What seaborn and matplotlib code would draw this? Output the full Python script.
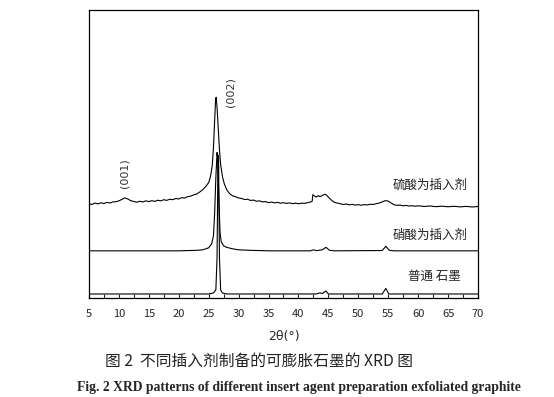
import numpy as np
import pandas as pd
import seaborn as sns
import matplotlib.pyplot as plt
from matplotlib.ticker import MultipleLocator

# 硫酸为插入剂 (2θ, 强度 a.u.)
h2so4_x = [5.0, 5.5, 6.0, 6.5, 7.0, 7.5, 8.0, 8.5, 9.0, 9.5, 10.0, 10.5, 11.0, 11.5, 12.0, 12.5,
           13.0, 13.5, 14.0, 14.5, 15.0, 15.5, 16.0, 16.5, 17.0, 17.5, 18.0, 18.5, 19.0, 19.5,
           20.0, 20.5, 21.0, 21.5, 22.0, 22.5, 23.0, 23.5, 24.0, 24.5, 25.0, 25.3, 25.6, 25.8,
           26.0, 26.15, 26.25, 26.4, 26.6, 26.8, 27.0, 27.3, 27.6, 28.0, 28.5, 29.0, 29.5, 30.0,
           30.5, 31.0, 31.5, 32.0, 32.5, 33.0, 33.5, 34.0, 34.5, 35.0, 35.5, 36.0, 36.5, 37.0,
           37.5, 38.0, 38.5, 39.0, 39.5, 40.0, 40.5, 41.0, 41.5, 42.0, 42.3, 42.4, 42.7, 43.0,
           43.3, 43.6, 44.0, 44.4, 44.7, 45.0, 45.5, 46.0, 46.5, 47.0, 47.5, 48.0, 48.5, 49.0,
           49.5, 50.0, 50.5, 51.0, 51.5, 52.0, 52.5, 53.0, 53.5, 54.0, 54.5, 55.0, 55.5, 56.0,
           56.5, 57.0, 57.5, 58.0, 58.5, 59.0, 59.5, 60.0, 61.0, 62.0, 63.0, 64.0, 65.0, 66.0,
           67.0, 68.0, 69.0, 70.0]
h2so4_y = [94.0, 93.2, 94.6, 93.8, 94.9, 94.1, 95.3, 94.6, 95.8, 95.9, 96.8, 98.2, 99.8, 98.6, 96.9, 96.2,
           95.4, 96.4, 95.7, 96.8, 96.1, 97.0, 96.3, 97.4, 96.8, 97.9, 97.3, 98.4, 98.0, 99.1,
           98.7, 100.0, 99.6, 101.0, 101.5, 102.8, 103.6, 105.6, 107.9, 111.0, 115.0, 121.0, 132.0, 150.0,
           178.0, 197.0, 200.0, 190.0, 168.0, 148.0, 133.0, 121.0, 114.0, 108.0, 104.0, 101.8, 100.9, 99.6,
           99.2, 98.1, 98.4, 97.2, 97.6, 96.4, 96.8, 95.7, 96.1, 95.0, 95.6, 94.8, 95.3, 94.4,
           95.0, 94.2, 94.8, 94.0, 94.6, 93.9, 94.5, 94.3, 95.0, 95.6, 96.5, 103.0, 101.5, 100.6,
           102.0, 101.0, 102.2, 103.4, 102.6, 100.5, 97.6, 95.3, 94.6, 94.0, 93.2, 93.6, 92.8, 93.3,
           92.6, 93.0, 92.4, 93.1, 92.7, 93.4, 93.2, 94.0, 94.6, 95.8, 97.0, 96.6, 94.6, 92.9,
           92.3, 92.6, 91.8, 92.3, 91.6, 92.0, 91.4, 91.9, 91.2, 91.7, 91.0, 91.5, 90.9, 91.4,
           90.8, 91.3, 90.7, 91.2]

# 硝酸为插入剂
hno3_x = [5.0, 20.0, 23.0, 24.0, 25.0, 25.5, 25.8, 26.0, 26.2, 26.4, 26.5, 26.7, 26.9, 27.1,
          27.5, 28.0, 29.0, 30.0, 32.0, 35.0, 42.0, 42.5, 43.0, 44.0, 44.6, 45.2, 46.0, 54.0,
          54.6, 55.2, 56.0, 70.0]
hno3_y = [47.0, 47.0, 47.5, 48.0, 50.0, 54.0, 62.0, 85.0, 120.0, 145.0, 140.0, 100.0, 65.0, 56.0,
          52.0, 50.5, 49.0, 48.0, 47.5, 47.0, 47.0, 48.0, 47.2, 48.0, 50.5, 47.5, 47.0, 47.3,
          51.5, 47.5, 47.0, 47.0]

# 普通 石墨
graphite_x = [5.0, 25.0, 25.8, 26.2, 26.4, 26.55, 26.65, 26.8, 27.0, 27.3, 28.0, 43.0, 43.5,
              44.0, 44.6, 45.0, 54.0, 54.6, 55.1, 70.0]
graphite_y = [4.0, 4.0, 5.0, 8.0, 40.0, 135.0, 142.0, 40.0, 8.0, 5.0, 4.0, 4.0, 5.0,
              4.5, 7.0, 4.0, 4.0, 9.5, 4.0, 4.0]

labels = ['硫酸为插入剂', '硝酸为插入剂', '普通 石墨']

sns.set_style("white")
plt.rcParams['font.family'] = ['Noto Sans CJK SC', 'DejaVu Sans']

fig = plt.figure(figsize=(5.54, 3.97), dpi=100)
ax = fig.add_axes([0.1606, 0.2494, 0.7022, 0.7254])

for xs, ys in [(h2so4_x, h2so4_y), (hno3_x, hno3_y), (graphite_x, graphite_y)]:
    sns.lineplot(x=xs, y=ys, ax=ax, color='black', linewidth=0.8, estimator=None)

ax.set_xlim(5, 70)
ax.set_ylim(0, 287)
ax.set_yticks([])
ax.xaxis.set_major_locator(MultipleLocator(5))
ax.xaxis.set_minor_locator(MultipleLocator(2.5))
ax.tick_params(axis='x', which='both', direction='in', bottom=True, top=False,
               length=3, width=0.8, labelsize=8, pad=8)
for s in ax.spines.values():
    s.set_color('black')
    s.set_linewidth(0.9)

ax.set_xlabel('2θ(°)', fontsize=9, labelpad=8, family=['DejaVu Sans'])

# 衍射峰标注
ax.text(10.9, 124, '(001)', rotation=90, ha='center', va='center', fontsize=8, color='#333333',
        family=['DejaVu Sans'])
ax.text(28.7, 205, '(002)', rotation=90, ha='center', va='center', fontsize=8, color='#333333',
        family=['DejaVu Sans'])

ax.text(68.3, 112, labels[0], ha='right', va='center', fontsize=9, color='#222222')
ax.text(68.3, 62, labels[1], ha='right', va='center', fontsize=9, color='#222222')
ax.text(67.2, 22, labels[2], ha='right', va='center', fontsize=9, color='#222222')

fig.text(105 / 554, 1 - 361 / 397, '图 2  不同插入剂制备的可膨胀石墨的 XRD 图', ha='left', va='center',
         fontsize=11.3, color='#222222')
fig.text(77 / 554, 1 - 387 / 397,
         'Fig. 2 XRD patterns of different insert agent preparation exfoliated graphite',
         ha='left', va='center', fontsize=9.8, fontweight='bold', family=['Liberation Serif'])

plt.savefig('out.png', dpi=100)
